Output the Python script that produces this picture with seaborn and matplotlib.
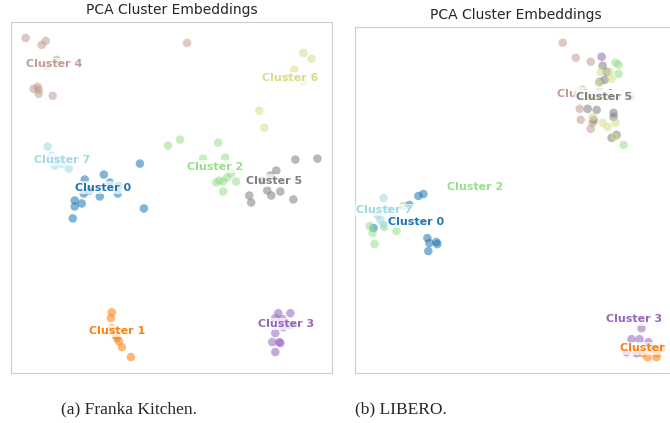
import matplotlib
matplotlib.use('Agg')
import matplotlib.pyplot as plt
import seaborn as sns
import pandas as pd

# PCA projections (pc2 grows downwards)
kitchen_pc1 = [140, 104, 110, 119, 100, 118, 75, 82, 75, 73, 144, 85, 84, 90,
               112, 111, 112, 117, 119, 122, 131, 116,
               168, 180, 218, 203, 225, 231, 219, 223, 236, 223, 227, 216,
               278, 290, 275, 282, 275, 272, 280, 275, 290, 283, 279,
               26, 46, 42, 187, 57, 47, 34, 38, 39, 39, 53,
               295, 317, 276, 270, 267, 280, 271, 249, 251, 293, 262,
               303, 311, 294, 287, 303, 259, 264,
               48, 52, 55, 62, 69, 58]
kitchen_pc2 = [163, 174, 182, 185, 196, 193, 200, 203, 206, 218, 208, 179, 193, 190,
               312, 318, 328, 338, 341, 347, 357, 335,
               145, 139, 142, 158, 157, 173, 180, 181, 181, 191, 177, 182,
               313, 313, 318, 319, 333, 342, 343, 352, 325, 327, 342,
               37, 40, 44, 42, 59, 65, 88, 86, 89, 93, 95,
               159, 158, 170, 175, 190, 191, 195, 195, 202, 199, 180,
               52, 58, 69, 78, 80, 110, 127,
               146, 155, 165, 163, 168, 160]
kitchen_cluster = [0] * 14 + [1] * 8 + [2] * 12 + [3] * 11 + [4] * 11 + [5] * 11 + [6] * 7 + [7] * 6
kitchen_center_pc1 = [103, 117, 215, 286, 55, 274, 290, 62]
kitchen_center_pc2 = [187, 331, 166, 324, 63, 180, 77, 159]

libero_pc1 = [418, 423, 409, 373, 427, 429, 436, 437, 428,
              643, 653, 658, 648, 662, 657,
              403, 369, 372, 374, 384, 396, 616, 619, 619, 624,
              602, 642, 632, 640, 649, 627, 637,
              563, 576, 591, 580, 581, 593, 591, 583,
              603, 607, 600, 605, 588, 597, 614, 614, 594, 617, 612, 600,
              601, 610, 612, 599, 593, 603, 608, 616, 615, 632,
              383, 377, 380, 387, 392, 383]
libero_pc2 = [196, 194, 205, 228, 238, 243, 242, 244, 251,
              353, 349, 353, 357, 348, 357,
              206, 226, 233, 244, 227, 231, 63, 65, 74, 145,
              57, 328, 339, 339, 342, 352, 353,
              43, 58, 62, 109, 120, 123, 129, 90,
              66, 72, 82, 80, 109, 110, 113, 117, 120, 135, 138, 92,
              72, 72, 79, 83, 117, 123, 127, 123, 137, 97,
              198, 215, 220, 210, 218, 225]
libero_cluster = [0] * 9 + [1] * 6 + [2] * 10 + [3] * 7 + [4] * 8 + [5] * 12 + [6] * 10 + [7] * 6
libero_center_pc1 = [416, 649, 475, 635, 585, 604, 607, 384]
libero_center_pc2 = [222, 348, 187, 319, 94, 97, 97, 210]

cluster_names = ['Cluster %d' % i for i in range(8)]
captions = ['(a) Franka Kitchen.', '(b) LIBERO.']

sns.set_style('white')
colors = plt.cm.tab20([i / 7 for i in range(8)])
palette = {i: colors[i] for i in range(8)}

fig = plt.figure(figsize=(6.7, 4.23), dpi=100)
ax1 = fig.add_axes([11 / 670, 50 / 423, 321 / 670, 351 / 423])
ax2 = fig.add_axes([355 / 670, 50 / 423, 321 / 670, 346 / 423])

panels = [
    (ax1, kitchen_pc1, kitchen_pc2, kitchen_cluster, kitchen_center_pc1, kitchen_center_pc2,
     [0, 1, 2, 3, 4, 5, 6, 7]),
    (ax2, libero_pc1, libero_pc2, libero_cluster, libero_center_pc1, libero_center_pc2,
     [0, 1, 2, 3, 4, 6, 5, 7]),
]

for ax, px, py, cl, cx, cy, order in panels:
    df = pd.DataFrame({'pc1': px, 'pc2': py, 'cluster': cl})
    sns.scatterplot(data=df, x='pc1', y='pc2', hue='cluster', palette=palette,
                    s=38, alpha=0.55, linewidth=0, legend=False, ax=ax)
    for k, i in enumerate(order):
        ax.text(cx[i], cy[i], cluster_names[i], color=colors[i], fontsize=8,
                fontweight='bold', ha='center', va='center', zorder=3 + k,
                bbox=dict(facecolor='white', alpha=0.7, edgecolor='none', pad=1))
    ax.invert_yaxis()
    ax.set_xticks([])
    ax.set_yticks([])
    ax.set(xlabel='', ylabel='')
    ax.set_title('PCA Cluster Embeddings', fontsize=10)
    for sp in ax.spines.values():
        sp.set_color('#cccccc')

fig.text(129 / 670, 0.031, captions[0], family='Liberation Serif', fontsize=12.5,
         ha='center', va='center')
fig.text(401 / 670, 0.031, captions[1], family='Liberation Serif', fontsize=12.5,
         ha='center', va='center')

fig.savefig('out.png', dpi=100)
